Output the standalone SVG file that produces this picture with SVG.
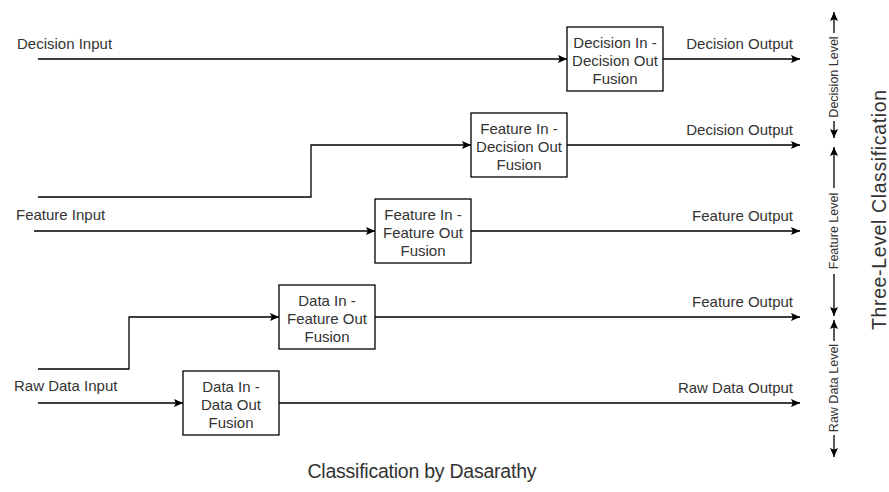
<svg xmlns="http://www.w3.org/2000/svg" width="889" height="492" viewBox="0 0 889 492">
  <style>
    text { font-family: "Liberation Sans", Arial, Helvetica, sans-serif; fill: #333333; }
    .lbl { font-size: 15px; }
    .end { text-anchor: end; }
    .box rect { fill: #ffffff; stroke: #000000; stroke-width: 1.3; }
    .box text { font-size: 15px; text-anchor: middle; }
    .wire { fill: none; stroke: #000000; stroke-width: 1.3; }
    .lvl { font-size: 12.5px; text-anchor: middle; }
    .title { font-size: 19.5px; text-anchor: middle; }
  </style>
  <defs>
    <marker id="arrow" viewBox="0 0 10 9" refX="10" refY="4.5" markerWidth="9" markerHeight="8.5" markerUnits="userSpaceOnUse" orient="auto-start-reverse">
      <path d="M0,0 L10,4.5 L0,9 L2,4.5 Z" fill="#000000"/>
    </marker>
  </defs>

  <rect width="889" height="492" fill="#ffffff"/>

  <!-- input / output labels -->
  <g id="labels">
    <text class="lbl" x="17" y="49">Decision Input</text>
    <text class="lbl" x="16" y="220">Feature Input</text>
    <text class="lbl" x="14" y="391">Raw Data Input</text>
    <text class="lbl end" x="793" y="49">Decision Output</text>
    <text class="lbl end" x="793" y="135">Decision Output</text>
    <text class="lbl end" x="793" y="221">Feature Output</text>
    <text class="lbl end" x="793" y="307">Feature Output</text>
    <text class="lbl end" x="793" y="393">Raw Data Output</text>
  </g>

  <!-- connectors -->
  <g id="connectors">
    <path class="wire" d="M38,59 H567" marker-end="url(#arrow)"/>
    <path class="wire" d="M663,59 H800" marker-end="url(#arrow)"/>
    <path class="wire" d="M38,197 H311 V145 H471" marker-end="url(#arrow)"/>
    <path class="wire" d="M567,145 H800" marker-end="url(#arrow)"/>
    <path class="wire" d="M34,231 H375" marker-end="url(#arrow)"/>
    <path class="wire" d="M471,231 H800" marker-end="url(#arrow)"/>
    <path class="wire" d="M38,369 H129 V317 H279" marker-end="url(#arrow)"/>
    <path class="wire" d="M375,317 H800" marker-end="url(#arrow)"/>
    <path class="wire" d="M38,403 H183" marker-end="url(#arrow)"/>
    <path class="wire" d="M279,403 H800" marker-end="url(#arrow)"/>
  </g>

  <!-- fusion nodes -->
  <g id="decision-decision" class="box">
    <rect x="567" y="27" width="96" height="64"/>
    <text x="615" y="48">Decision In -</text>
    <text x="615" y="66">Decision Out</text>
    <text x="615" y="84">Fusion</text>
  </g>
  <g id="feature-decision" class="box">
    <rect x="471" y="113" width="96" height="64"/>
    <text x="519" y="134">Feature In -</text>
    <text x="519" y="152">Decision Out</text>
    <text x="519" y="170">Fusion</text>
  </g>
  <g id="feature-feature" class="box">
    <rect x="375" y="199" width="96" height="64"/>
    <text x="423" y="220">Feature In -</text>
    <text x="423" y="238">Feature Out</text>
    <text x="423" y="256">Fusion</text>
  </g>
  <g id="data-feature" class="box">
    <rect x="279" y="285" width="96" height="64"/>
    <text x="327" y="306">Data In -</text>
    <text x="327" y="324">Feature Out</text>
    <text x="327" y="342">Fusion</text>
  </g>
  <g id="data-data" class="box">
    <rect x="183" y="371" width="96" height="64"/>
    <text x="231" y="392">Data In -</text>
    <text x="231" y="410">Data Out</text>
    <text x="231" y="428">Fusion</text>
  </g>

  <!-- level ranges on the right -->
  <g id="decision-level">
    <path class="wire" d="M834,33 V12" marker-end="url(#arrow)"/>
    <path class="wire" d="M834,121 V138" marker-end="url(#arrow)"/>
    <text class="lvl" transform="translate(834,77) rotate(-90)" dy="0.35em">Decision Level</text>
  </g>
  <g id="feature-level">
    <path class="wire" d="M834,188 V147" marker-end="url(#arrow)"/>
    <path class="wire" d="M834,274 V316" marker-end="url(#arrow)"/>
    <text class="lvl" transform="translate(834,231) rotate(-90)" dy="0.35em">Feature Level</text>
  </g>
  <g id="raw-data-level">
    <path class="wire" d="M834,341 V320" marker-end="url(#arrow)"/>
    <path class="wire" d="M834,435 V457" marker-end="url(#arrow)"/>
    <text class="lvl" transform="translate(834,388) rotate(-90)" dy="0.35em">Raw Data Level</text>
  </g>

  <!-- captions -->
  <g id="captions">
    <text class="title" transform="translate(879,210) rotate(-90)" dy="0.35em" textLength="240" lengthAdjust="spacing">Three-Level Classification</text>
    <text class="title" x="422" y="478" textLength="229" lengthAdjust="spacing">Classification by Dasarathy</text>
  </g>
</svg>
